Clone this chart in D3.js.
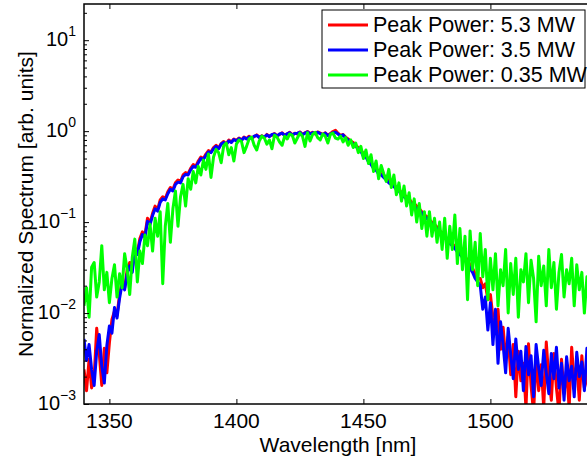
<!DOCTYPE html>
<html>

<head>
    <meta charset="UTF-8" />
    <title>spectrum</title>
    <style>
        body {
            margin: 0;
            padding: 0;
            background: #fff;
            overflow: hidden;
        }

        svg {
            display: block;
            font-family: 'Liberation Sans', Arial, Helvetica, sans-serif;
        }
    </style>
</head>

<body>
    <div class="container"></div>

    <script src="https://cdnjs.cloudflare.com/ajax/libs/d3/7.8.5/d3.min.js"></script>
    <script>
        // sampled every 1 nm, 1340 .. 1540
        const wavelength = d3.range(1340, 1541);

        const power53 = [
            0.0024, 0.0014, 0.0031, 0.0015, 0.0020, 0.0068, 0.0036, 0.0016, 0.0041, 0.0022, // 1340
            0.0047, 0.0085, 0.0105, 0.0094, 0.016, 0.022, 0.019, 0.030, 0.036, 0.031,       // 1350
            0.052, 0.046, 0.066, 0.078, 0.072, 0.11, 0.098, 0.125, 0.15, 0.138,             // 1360
            0.175, 0.19, 0.182, 0.215, 0.24, 0.23, 0.27, 0.29, 0.28, 0.33,                  // 1370
            0.35, 0.34, 0.39, 0.43, 0.41, 0.47, 0.52, 0.50, 0.56, 0.61,                     // 1380
            0.59, 0.66, 0.70, 0.65, 0.73, 0.77, 0.72, 0.80, 0.76, 0.82,                     // 1390
            0.79, 0.84, 0.80, 0.86, 0.83, 0.88, 0.84, 0.87, 0.91, 0.86,                     // 1400
            0.89, 0.85, 0.92, 0.88, 0.90, 0.94, 0.89, 0.92, 0.96, 0.90,                     // 1410
            0.93, 0.97, 0.91, 0.95, 0.93, 0.98, 0.92, 0.96, 0.99, 0.94,                     // 1420
            0.97, 0.93, 0.98, 0.95, 0.92, 0.96, 0.90, 0.94, 0.99, 1.02,                     // 1430
            0.95, 0.90, 0.92, 0.86, 0.82, 0.78, 0.75, 0.70, 0.66, 0.63,                     // 1440
            0.56, 0.54, 0.49, 0.45, 0.41, 0.39, 0.36, 0.34, 0.33, 0.30,                     // 1450
            0.29, 0.27, 0.26, 0.24, 0.23, 0.21, 0.20, 0.19, 0.18, 0.165,                    // 1460
            0.16, 0.15, 0.14, 0.13, 0.12, 0.115, 0.105, 0.10, 0.094, 0.088,                 // 1470
            0.08, 0.077, 0.07, 0.066, 0.061, 0.058, 0.054, 0.05, 0.047, 0.044,              // 1480
            0.042, 0.038, 0.034, 0.031, 0.027, 0.024, 0.024, 0.019, 0.021, 0.014,           // 1490
            0.016, 0.009, 0.006, 0.011, 0.004, 0.007, 0.0032, 0.0055, 0.0021, 0.0045,       // 1500
            0.0012, 0.0038, 0.0018, 0.0028, 0.0009, 0.0046, 0.0016, 0.0008, 0.0033, 0.0014, // 1510
            0.0027, 0.0009, 0.0048, 0.0019, 0.0011, 0.0036, 0.0015, 0.0008, 0.0031, 0.0013, // 1520
            0.0024, 0.0009, 0.0042, 0.0017, 0.0027, 0.0011, 0.0034, 0.0015, 0.0022, 0.0012, // 1530
            0.0018                                                                         // 1540
        ];

        const power35 = [
            0.0052, 0.0030, 0.0045, 0.0024, 0.0016, 0.0038, 0.0058, 0.0026, 0.0017, 0.0044, // 1340
            0.0072, 0.0060, 0.0115, 0.0088, 0.0145, 0.021, 0.018, 0.027, 0.033, 0.028,      // 1350
            0.048, 0.044, 0.061, 0.073, 0.068, 0.102, 0.094, 0.118, 0.14, 0.132,            // 1360
            0.165, 0.18, 0.175, 0.205, 0.23, 0.22, 0.26, 0.275, 0.27, 0.315,                // 1370
            0.335, 0.33, 0.375, 0.41, 0.40, 0.45, 0.50, 0.49, 0.54, 0.59,                   // 1380
            0.58, 0.64, 0.68, 0.64, 0.72, 0.75, 0.71, 0.78, 0.75, 0.81,                     // 1390
            0.78, 0.83, 0.79, 0.85, 0.82, 0.86, 0.83, 0.88, 0.90, 0.85,                     // 1400
            0.88, 0.86, 0.91, 0.87, 0.92, 0.93, 0.88, 0.93, 0.95, 0.89,                     // 1410
            0.94, 0.96, 0.90, 0.94, 0.95, 0.97, 0.91, 0.95, 0.98, 0.93,                     // 1420
            0.96, 0.94, 0.97, 0.94, 0.91, 0.95, 0.89, 0.93, 0.96, 0.97,                     // 1430
            0.93, 0.88, 0.91, 0.84, 0.80, 0.76, 0.72, 0.68, 0.64, 0.60,                     // 1440
            0.53, 0.52, 0.46, 0.43, 0.39, 0.37, 0.34, 0.33, 0.31, 0.29,                     // 1450
            0.27, 0.26, 0.245, 0.23, 0.22, 0.20, 0.19, 0.18, 0.17, 0.155,                   // 1460
            0.15, 0.14, 0.135, 0.125, 0.115, 0.11, 0.10, 0.096, 0.09, 0.084,                // 1470
            0.077, 0.074, 0.067, 0.063, 0.058, 0.055, 0.051, 0.047, 0.044, 0.041,           // 1480
            0.039, 0.035, 0.031, 0.028, 0.024, 0.022, 0.02, 0.011, 0.015, 0.0065,           // 1490
            0.013, 0.0045, 0.011, 0.0028, 0.008, 0.0045, 0.0022, 0.0068, 0.0035, 0.0019,    // 1500
            0.0052, 0.0024, 0.0038, 0.0014, 0.0043, 0.0021, 0.0034, 0.0012, 0.0045, 0.0025, // 1510
            0.0016, 0.0039, 0.0022, 0.0013, 0.0036, 0.0019, 0.0042, 0.0015, 0.0028, 0.0011, // 1520
            0.0033, 0.0018, 0.0026, 0.0012, 0.0037, 0.002, 0.0029, 0.0014, 0.0041, 0.0023,  // 1530
            0.0031                                                                         // 1540
        ];

        const power035 = [
            0.012, 0.019, 0.009, 0.032, 0.036, 0.015, 0.022, 0.055, 0.018, 0.028,           // 1340
            0.013, 0.024, 0.034, 0.015, 0.027, 0.019, 0.045, 0.030, 0.016, 0.041,           // 1350
            0.065, 0.022, 0.048, 0.035, 0.072, 0.055, 0.095, 0.048, 0.11, 0.07,             // 1360
            0.13, 0.021, 0.09, 0.16, 0.06, 0.14, 0.22, 0.09, 0.19, 0.26,                    // 1370
            0.15, 0.30, 0.23, 0.36, 0.27, 0.41, 0.33, 0.48, 0.38, 0.56,                     // 1380
            0.31, 0.52, 0.63, 0.58, 0.45, 0.69, 0.74, 0.55, 0.66, 0.47,                     // 1390
            0.72, 0.80, 0.77, 0.58, 0.68, 0.82, 0.86, 0.70, 0.62, 0.78,                     // 1400
            0.88, 0.84, 0.72, 0.80, 0.64, 0.90, 0.86, 0.76, 0.70, 0.88,                     // 1410
            0.82, 0.93, 0.90, 0.74, 0.84, 0.95, 0.88, 0.68, 0.96, 0.78,                     // 1420
            0.92, 0.97, 0.85, 0.80, 0.93, 0.88, 0.74, 0.92, 0.95, 0.84,                     // 1430
            0.82, 0.88, 0.76, 0.85, 0.70, 0.80, 0.66, 0.74, 0.58, 0.68,                     // 1440
            0.50, 0.62, 0.44, 0.55, 0.36, 0.47, 0.30, 0.42, 0.34, 0.28,                     // 1450
            0.38, 0.24, 0.33, 0.20, 0.27, 0.17, 0.25, 0.15, 0.21, 0.12,                     // 1460
            0.18, 0.10, 0.16, 0.085, 0.13, 0.07, 0.13, 0.07, 0.11, 0.06,                    // 1470
            0.10, 0.05, 0.11, 0.04, 0.09, 0.05, 0.12, 0.035, 0.085, 0.03,                   // 1480
            0.07, 0.014, 0.08, 0.03, 0.06, 0.02, 0.075, 0.025, 0.05, 0.014,                 // 1490
            0.04, 0.018, 0.045, 0.012, 0.03, 0.02, 0.05, 0.01, 0.035, 0.016,                // 1500
            0.04, 0.009, 0.03, 0.022, 0.045, 0.013, 0.038, 0.024, 0.008, 0.042,             // 1510
            0.02, 0.033, 0.012, 0.05, 0.019, 0.036, 0.011, 0.028, 0.044, 0.015,             // 1520
            0.03, 0.021, 0.04, 0.012, 0.034, 0.018, 0.028, 0.01, 0.025, 0.016,              // 1530
            0.022                                                                          // 1540
        ];

        const seriesNames = ['Peak Power: 5.3 MW', 'Peak Power: 3.5 MW', 'Peak Power: 0.35 MW'];
        const seriesColors = ['#ff0000', '#0000ff', '#00ff00'];
        const seriesValues = [power53, power35, power035];

        const xTicks = [1350, 1400, 1450, 1500];
        const yTicks = [1e-3, 1e-2, 1e-1, 1, 10];
        const yExponents = ['\u22123', '\u22122', '\u22121', '0', '1'];

        const W = 587, H = 462;
        const m = { left: 84, top: 4, right: 592, bottom: 404 };

        const svg = d3.select('.container').append('svg')
            .attr('width', W)
            .attr('height', H);

        const x = d3.scaleLinear().domain([1340, 1540]).range([m.left, m.right]);
        const y = d3.scaleLog().domain([1e-3, 25]).range([m.bottom, m.top]);

        svg.append('clipPath').attr('id', 'clip')
            .append('rect')
            .attr('x', m.left).attr('y', m.top)
            .attr('width', m.right - m.left).attr('height', m.bottom - m.top);

        const lineGen = d3.line()
            .x((d, i) => x(wavelength[i]))
            .y(d => y(d));

        const plot = svg.append('g').attr('clip-path', 'url(#clip)');
        seriesValues.forEach((vals, k) => {
            plot.append('path')
                .attr('d', lineGen(vals))
                .attr('fill', 'none')
                .attr('stroke', seriesColors[k])
                .attr('stroke-width', 3)
                .attr('stroke-linejoin', 'round');
        });

        // axes box
        const minorY = y.ticks().filter(v => !yTicks.includes(v));

        function styleAxis(g) {
            g.select('.domain').remove();
            g.selectAll('line').attr('stroke', '#000').attr('stroke-width', 1);
        }

        svg.append('g').attr('transform', `translate(0,${m.bottom})`)
            .call(d3.axisBottom(x).tickValues(xTicks).tickSize(-5).tickFormat(''))
            .call(styleAxis);
        svg.append('g').attr('transform', `translate(0,${m.top})`)
            .call(d3.axisTop(x).tickValues(xTicks).tickSize(-5).tickFormat(''))
            .call(styleAxis);
        svg.append('g').attr('transform', `translate(${m.left},0)`)
            .call(d3.axisLeft(y).tickValues(yTicks).tickSize(-5).tickFormat(''))
            .call(styleAxis);
        svg.append('g').attr('transform', `translate(${m.left},0)`)
            .call(d3.axisLeft(y).tickValues(minorY).tickSize(-3).tickFormat(''))
            .call(styleAxis);

        svg.append('rect')
            .attr('x', m.left).attr('y', m.top)
            .attr('width', m.right - m.left).attr('height', m.bottom - m.top)
            .attr('fill', 'none')
            .attr('stroke', '#000')
            .attr('stroke-width', 1.5);

        // tick labels
        svg.append('g').selectAll('text')
            .data(xTicks)
            .join('text')
            .attr('x', d => x(d))
            .attr('y', m.bottom + 24)
            .attr('text-anchor', 'middle')
            .attr('font-size', 21)
            .attr('fill', '#000')
            .text(d => d);

        const yl = svg.append('g').selectAll('text')
            .data(yTicks)
            .join('text')
            .attr('x', 76)
            .attr('y', d => y(d) + 6)
            .attr('text-anchor', 'end')
            .attr('font-size', 20)
            .attr('fill', '#000');
        yl.append('tspan').text('10');
        yl.append('tspan')
            .attr('font-size', 14)
            .attr('dy', -10)
            .text((d, i) => yExponents[i]);

        // axis titles
        svg.append('text')
            .attr('x', (m.left + m.right) / 2)
            .attr('y', 452)
            .attr('text-anchor', 'middle')
            .attr('font-size', 21)
            .text('Wavelength [nm]');

        svg.append('text')
            .attr('transform', `translate(33,${(m.top + m.bottom) / 2}) rotate(-90)`)
            .attr('text-anchor', 'middle')
            .attr('font-size', 21)
            .text('Normalized Spectrum [arb. units]');

        // legend
        const lg = svg.append('g');
        lg.append('rect')
            .attr('x', 322).attr('y', 10)
            .attr('width', 263).attr('height', 78)
            .attr('fill', '#fff')
            .attr('stroke', '#000')
            .attr('stroke-width', 1);
        seriesNames.forEach((name, k) => {
            const cy = 25 + k * 25;
            lg.append('line')
                .attr('x1', 328).attr('x2', 368)
                .attr('y1', cy).attr('y2', cy)
                .attr('stroke', seriesColors[k])
                .attr('stroke-width', 3);
            lg.append('text')
                .attr('x', 373)
                .attr('y', cy + 7)
                .attr('font-size', 21.5)
                .text(name);
        });
    </script>
</body>

</html>
